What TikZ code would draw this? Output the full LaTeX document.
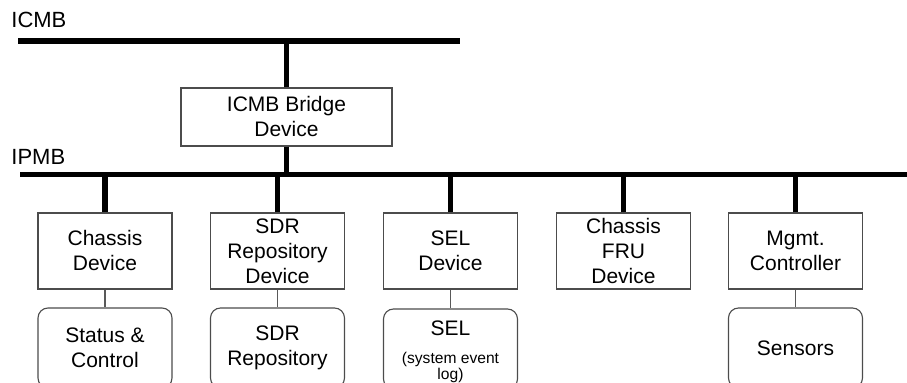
\documentclass[tikz,border=0pt]{standalone}
\usepackage{fontspec}
\setmainfont{Liberation Sans}
\begin{document}
\begin{tikzpicture}[x=0.5pt,y=-0.5pt,
    bus/.style={line width=2.6pt},
    tap/.style={line width=2.9pt},
    link/.style={draw=black!65,line width=0.55pt},
    busname/.style={anchor=base west,inner sep=0pt,font=\fontsize{11}{13}\selectfont},
    devbox/.style={draw=black!70,line width=0.55pt,minimum width=67pt,minimum height=38pt,
        inner sep=0pt,align=center,font=\fontsize{10.5}{12.5}\selectfont},
    storebox/.style={devbox,rounded corners=5pt,minimum height=40pt}]
    \useasboundingbox (0,0) rectangle (907,383);
    % buses
    \node[busname] (icmb) at (11,28) {ICMB};
    \coordinate (icmbL) at (18,41);
    \coordinate (icmbR) at (460,41);
    \draw[bus] (icmbL) -- (icmbR);
    \node[busname] (ipmb) at (11,165) {IPMB};
    \coordinate (ipmbL) at (20,174.5);
    \coordinate (ipmbR) at (907,174.5);
    \draw[bus] (ipmbL) -- (ipmbR);
    % bridge
    \node[devbox,minimum width=105.5pt,minimum height=29pt] (bridge) at (286.5,117) {ICMB Bridge\\Device};
    \draw[tap] (bridge.north) -- (bridge.north |- icmbL);
    \draw[tap] (bridge.south) -- (bridge.south |- ipmbL);
    % devices on the IPMB
    \node[devbox] (chassis) at (105,251) {Chassis\\Device};
    \node[devbox] (sdrdev) at (277.5,251) {SDR\\Repository\\Device};
    \node[devbox] (seldev) at (450.5,251) {SEL\\Device};
    \node[devbox] (fru) at (623.5,251) {Chassis\\FRU\\Device};
    \node[devbox] (mgmt) at (795.5,251) {Mgmt.\\Controller};
    \draw[tap] (chassis.north) -- (chassis.north |- ipmbL);
    \draw[tap] (sdrdev.north) -- (sdrdev.north |- ipmbL);
    \draw[tap] (seldev.north) -- (seldev.north |- ipmbL);
    \draw[tap] (fru.north) -- (fru.north |- ipmbL);
    \draw[tap] (mgmt.north) -- (mgmt.north |- ipmbL);
    % what the devices hold
    \node[storebox] (status) at (105,348) {Status \&\\Control};
    \node[storebox] (sdr) at (277.5,348) {SDR\\Repository};
    \node[storebox] (sel) at (450.5,349) {};
    \node[align=center,inner sep=0pt,font=\fontsize{7.8}{7.5}\selectfont] (seltext) at (450.5,351.5)
        {{\fontsize{10.5}{12.5}\selectfont SEL}\\[6.5pt](system event\\[0.6pt]log)};
    \node[storebox] (sensors) at (795.5,348) {Sensors};
    \draw[link] (chassis) -- (status);
    \draw[link] (sdrdev) -- (sdr);
    \draw[link] (seldev) -- (sel);
    \draw[link] (mgmt) -- (sensors);
\end{tikzpicture}
\end{document}
